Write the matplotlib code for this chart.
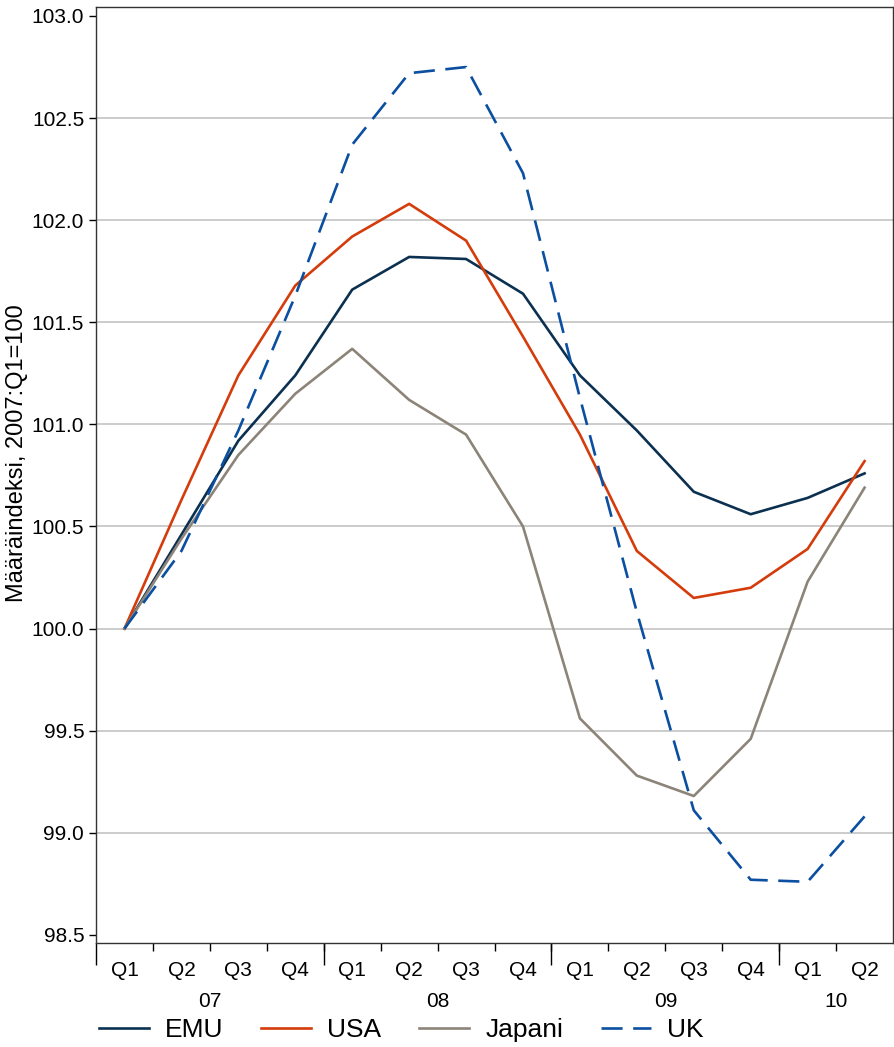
import matplotlib
matplotlib.use("Agg")
import matplotlib.pyplot as plt
import numpy as np

plt.rcParams['font.family'] = ['Liberation Sans', 'DejaVu Sans']

quarters = ['Q1', 'Q2', 'Q3', 'Q4', 'Q1', 'Q2', 'Q3', 'Q4',
            'Q1', 'Q2', 'Q3', 'Q4', 'Q1', 'Q2']
years = ['07', '08', '09', '10']
year_pos = [1.5, 5.5, 9.5, 12.5]
year_bounds = [-0.5, 3.5, 7.5, 11.5]

emu = [100.0, 100.46, 100.92, 101.24, 101.66, 101.82, 101.81, 101.64,
       101.24, 100.97, 100.67, 100.56, 100.64, 100.76]
usa = [100.0, 100.63, 101.24, 101.68, 101.92, 102.08, 101.90, 101.43,
       100.95, 100.38, 100.15, 100.20, 100.39, 100.82]
japani = [100.0, 100.44, 100.85, 101.15, 101.37, 101.12, 100.95, 100.50,
          99.56, 99.28, 99.18, 99.46, 100.23, 100.69]
uk = [100.0, 100.38, 100.97, 101.63, 102.37, 102.72, 102.75, 102.23,
      101.13, 100.08, 99.11, 98.77, 98.76, 99.08]

x = np.arange(len(quarters))

fig = plt.figure(figsize=(8.95, 10.47), dpi=100)
ax = fig.add_axes([0.1073, 0.0993, 0.8905, 0.894])

ax.plot(x, emu, color='#0b3050', lw=1.9, label='EMU')
ax.plot(x, usa, color='#d43c0c', lw=1.9, label='USA')
ax.plot(x, japani, color='#8c8478', lw=1.9, label='Japani')
ax.plot(x, uk, color='#0a4fa0', lw=1.9, dashes=(8, 4), label='UK')

ax.set_xlim(-0.5, 13.5)
ax.set_ylim(98.46, 103.044)
yt = np.arange(98.5, 103.01, 0.5)
ax.set_yticks(yt)
ax.set_yticklabels(['%.1f' % v for v in yt])
ax.tick_params(axis='y', labelsize=15, length=5, width=1, direction='out')
ax.yaxis.grid(True, color='#c4c4c4', lw=1.2)
gl = ax.get_ygridlines()
gl[0].set_visible(False)
gl[-1].set_visible(False)
ax.set_axisbelow(True)

ax.set_xticks(x)
ax.set_xticklabels(quarters)
ax.tick_params(axis='x', which='major', length=0, labelsize=15, pad=13)
ax.set_xticks(np.arange(0.5, 13, 1), minor=True)
ax.tick_params(axis='x', which='minor', length=6, width=1)

sec = ax.secondary_xaxis('bottom')
sec.set_xticks(year_bounds)
sec.set_xticklabels([''] * len(year_bounds))
sec.tick_params(axis='x', which='major', length=16, width=1)
sec.set_xticks(year_pos, minor=True)
sec.set_xticklabels(years, minor=True)
sec.tick_params(axis='x', which='minor', length=0, labelsize=15, pad=35)
sec.spines['bottom'].set_visible(False)

for s in ax.spines.values():
    s.set_color('#333333')
    s.set_linewidth(1)

ax.set_ylabel('Määräindeksi, 2007:Q1=100', fontsize=17)
ax.yaxis.set_label_coords(-0.0853, 0.5235)

fig.legend(loc='lower left', bbox_to_anchor=(0.0838, -0.018), ncol=4,
           frameon=False, fontsize=19, handlelength=1.9, handletextpad=0.6,
           columnspacing=1.44)

fig.savefig('out.png', dpi=100)
